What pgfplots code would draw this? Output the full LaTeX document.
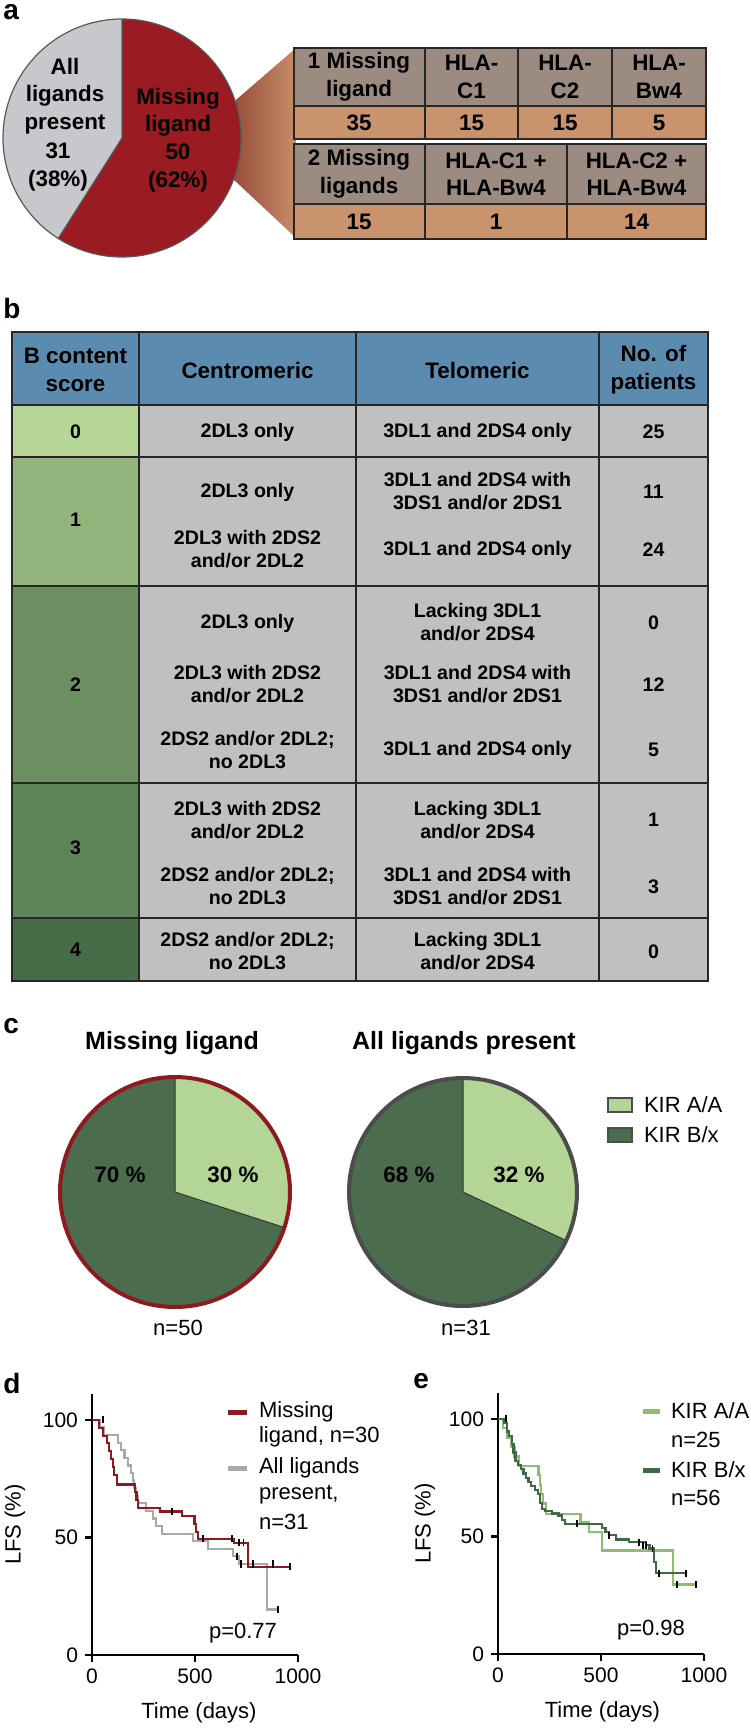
\documentclass[border=0pt]{standalone}
\usepackage{fontspec}
\setmainfont{Liberation Sans}
\setsansfont{Liberation Sans}
\usepackage{pgfplots}
\pgfplotsset{compat=1.18}

\definecolor{ligRed}{HTML}{9A1B21}
\definecolor{ligGray}{HTML}{C7C8CB}
\definecolor{wedgeL}{HTML}{7E2A22}
\definecolor{wedgeR}{HTML}{C68E68}
\definecolor{tabHead}{HTML}{9C8B80}
\definecolor{tabVal}{HTML}{C9936E}
\definecolor{tabBlue}{HTML}{5B8CB0}
\definecolor{tabGray}{HTML}{C0C0C0}
\definecolor{score0}{HTML}{B5D697}
\definecolor{score1}{HTML}{93B47B}
\definecolor{score2}{HTML}{6B8F61}
\definecolor{score3}{HTML}{5E8457}
\definecolor{score4}{HTML}{476D48}
\definecolor{kirAA}{HTML}{B3D595}
\definecolor{kirBx}{HTML}{4B6C4D}
\definecolor{kmRed}{HTML}{8E1A20}
\definecolor{kmGray}{HTML}{A9A9A9}
\definecolor{kmAA}{HTML}{8DBD70}
\definecolor{kmBx}{HTML}{3E6A44}

\newcommand{\fA}{\bfseries\fontsize{11.2}{13.8}\selectfont}
\newcommand{\fH}{\bfseries\fontsize{11.2}{14}\selectfont}
\newcommand{\fB}{\bfseries\fontsize{9.8}{11.4}\selectfont}
\newcommand{\fL}{\fontsize{11}{13.5}\selectfont}
\newcommand{\fP}{\bfseries\fontsize{14}{14}\selectfont}

\pgfplotsset{
  km/.style={
    scale only axis, width=103pt, height=130.5pt,
    xmin=0, xmax=1000, ymin=0, ymax=111,
    axis lines=left, axis line style={line width=1.3pt, -},
    xtick={0,500,1000}, ytick={0,50,100},
    tick align=outside, major tick length=3.5pt,
    every tick/.style={line width=1.3pt, black},
    tick label style={font=\fontsize{10.5}{12}\selectfont},
    /pgf/number format/assume math mode=true,
    /pgf/number format/1000 sep={},
    clip=false,
  },
  pie/.style={
    hide axis, scale only axis, anchor=center,
    xmin=-1, xmax=1, ymin=-1, ymax=1, clip=false,
  },
}

\begin{document}
\begin{tikzpicture}[x=0.5pt, y=-0.5pt]

% ---------------- panel a ----------------
\node[anchor=north west, inner sep=0, font=\fP] at (3,4) {a};

\shade[left color=wedgeL, right color=wedgeR]
  (200,131) -- (296,48) -- (296,238) -- (200,148) -- cycle;

\coordinate (pA) at (122,138);
\begin{axis}[pie, at={(pA)}, width=119pt, height=119pt]
  \fill[ligGray] (axis cs:0,0) -- ++(90:59.5pt)
     arc[start angle=90, end angle=90+41*3.6, radius=59.5pt] -- cycle;
  \fill[ligRed] (axis cs:0,0) -- ++(90:59.5pt)
     arc[start angle=90, end angle=90-59*3.6, radius=59.5pt] -- cycle;
  \draw[black!65, line width=0.6pt] (axis cs:0,0) -- ++(90:59.5pt)
     (axis cs:0,0) -- ++(90-59*3.6:59.5pt);
  \draw[black!65, line width=0.6pt] (axis cs:0,0) circle[radius=59.5pt];
\end{axis}

\node[align=center, inner sep=0, font=\fA] at (65,96) {All\\ligands\\present};
\node[align=center, inner sep=0, font=\fA] at (58,167) {31\\(38\%)};
\node[align=center, inner sep=0, font=\fA] at (178,140)
  {Missing\\ligand\\50\\(62\%)};

% table 1
\fill[tabHead] (294,48) rectangle (706,106);
\fill[tabVal] (294,106) rectangle (706,139);
\draw[black!85, line width=1pt] (294,48) rectangle (706,139)
  (294,106) -- (706,106) (425,48) -- (425,139)
  (518,48) -- (518,139) (612,48) -- (612,139);
\node[align=center, inner sep=0, font=\fA] at (359,77) {1 Missing\\ligand};
\node[align=center, inner sep=0, font=\fA] at (471.5,77) {HLA-\\C1};
\node[align=center, inner sep=0, font=\fA] at (565,77) {HLA-\\C2};
\node[align=center, inner sep=0, font=\fA] at (659,77) {HLA-\\Bw4};
\node[font=\fA] at (359,123) {35};
\node[font=\fA] at (471.5,123) {15};
\node[font=\fA] at (565,123) {15};
\node[font=\fA] at (659,123) {5};

% table 2
\fill[tabHead] (294,144) rectangle (706,204);
\fill[tabVal] (294,204) rectangle (706,239);
\draw[black!85, line width=1pt] (294,144) rectangle (706,239)
  (294,204) -- (706,204) (425,144) -- (425,239) (567,144) -- (567,239);
\node[align=center, inner sep=0, font=\fA] at (359,174) {2 Missing\\ligands};
\node[align=center, inner sep=0, font=\fA] at (496,174) {HLA-C1 +\\HLA-Bw4};
\node[align=center, inner sep=0, font=\fA] at (636.5,174) {HLA-C2 +\\HLA-Bw4};
\node[font=\fA] at (359,222) {15};
\node[font=\fA] at (496,222) {1};
\node[font=\fA] at (636.5,222) {14};

% ---------------- panel b ----------------
\node[anchor=north west, inner sep=0, font=\fP] at (3,298) {b};

\fill[tabBlue] (12,332) rectangle (708,405);
\fill[tabGray] (139,405) rectangle (708,981);
\fill[score0] (12,405) rectangle (139,457);
\fill[score1] (12,457) rectangle (139,586);
\fill[score2] (12,586) rectangle (139,783);
\fill[score3] (12,783) rectangle (139,918);
\fill[score4] (12,918) rectangle (139,981);
\draw[black!85, line width=1pt] (12,332) rectangle (708,981);
\foreach \yy in {405,457,586,783,918} \draw[black!85, line width=1pt] (12,\yy) -- (708,\yy);
\foreach \xx in {139,356,599} \draw[black!85, line width=1pt] (\xx,332) -- (\xx,981);

\node[align=center, inner sep=0, font=\fH] at (75.5,370) {B content\\score};
\node[font=\fH] at (247.5,370) {Centromeric};
\node[font=\fH] at (477.5,370) {Telomeric};
\node[align=center, inner sep=0, font=\fH] at (653.5,370) {No. of\\patients};

% row 0
\node[font=\fB] at (75.5,432) {0};
\node[font=\fB] at (247.5,432) {2DL3 only};
\node[font=\fB] at (477.5,432) {3DL1 and 2DS4 only};
\node[font=\fB] at (653.5,432) {25};
% row 1
\node[font=\fB] at (75.5,520) {1};
\node[font=\fB] at (247.5,492) {2DL3 only};
\node[align=center, inner sep=0, font=\fB] at (247.5,549) {2DL3 with 2DS2\\and/or 2DL2};
\node[align=center, inner sep=0, font=\fB] at (477.5,491) {3DL1 and 2DS4 with\\3DS1 and/or 2DS1};
\node[font=\fB] at (477.5,550) {3DL1 and 2DS4 only};
\node[font=\fB] at (653.5,492) {11};
\node[font=\fB] at (653.5,550) {24};
% row 2
\node[font=\fB] at (75.5,685) {2};
\node[font=\fB] at (247.5,623) {2DL3 only};
\node[align=center, inner sep=0, font=\fB] at (247.5,684) {2DL3 with 2DS2\\and/or 2DL2};
\node[align=center, inner sep=0, font=\fB] at (247.5,750) {2DS2 and/or 2DL2;\\no 2DL3};
\node[align=center, inner sep=0, font=\fB] at (477.5,622) {Lacking 3DL1\\and/or 2DS4};
\node[align=center, inner sep=0, font=\fB] at (477.5,684) {3DL1 and 2DS4 with\\3DS1 and/or 2DS1};
\node[font=\fB] at (477.5,750) {3DL1 and 2DS4 only};
\node[font=\fB] at (653.5,623) {0};
\node[font=\fB] at (653.5,685) {12};
\node[font=\fB] at (653.5,750) {5};
% row 3
\node[font=\fB] at (75.5,848) {3};
\node[align=center, inner sep=0, font=\fB] at (247.5,820) {2DL3 with 2DS2\\and/or 2DL2};
\node[align=center, inner sep=0, font=\fB] at (247.5,886) {2DS2 and/or 2DL2;\\no 2DL3};
\node[align=center, inner sep=0, font=\fB] at (477.5,820) {Lacking 3DL1\\and/or 2DS4};
\node[align=center, inner sep=0, font=\fB] at (477.5,886) {3DL1 and 2DS4 with\\3DS1 and/or 2DS1};
\node[font=\fB] at (653.5,820) {1};
\node[font=\fB] at (653.5,887) {3};
% row 4
\node[font=\fB] at (75.5,950) {4};
\node[align=center, inner sep=0, font=\fB] at (247.5,951) {2DS2 and/or 2DL2;\\no 2DL3};
\node[align=center, inner sep=0, font=\fB] at (477.5,951) {Lacking 3DL1\\and/or 2DS4};
\node[font=\fB] at (653.5,952) {0};

% ---------------- panel c ----------------
\node[anchor=north west, inner sep=0, font=\fP] at (3,1018) {c};
\node[font=\bfseries\fontsize{12.5}{14}\selectfont] at (172,1043) {Missing ligand};
\node[font=\bfseries\fontsize{12.5}{14}\selectfont] at (464,1043) {All ligands present};

\coordinate (pL) at (175,1192);
\begin{axis}[pie, at={(pL)}, width=115pt, height=115pt]
  \fill[kirBx] (axis cs:0,0) -- ++(90:57.5pt)
     arc[start angle=90, end angle=90+70*3.6, radius=57.5pt] -- cycle;
  \fill[kirAA] (axis cs:0,0) -- ++(90:57.5pt)
     arc[start angle=90, end angle=90-30*3.6, radius=57.5pt] -- cycle;
  \draw[black!80, line width=0.5pt] (axis cs:0,0) -- ++(90:57.5pt)
     (axis cs:0,0) -- ++(90-30*3.6:57.5pt);
  \draw[kmRed, line width=2pt] (axis cs:0,0) circle[radius=57.5pt];
\end{axis}

\coordinate (pR) at (463,1192);
\begin{axis}[pie, at={(pR)}, width=114pt, height=114pt]
  \fill[kirBx] (axis cs:0,0) -- ++(90:57pt)
     arc[start angle=90, end angle=90+68*3.6, radius=57pt] -- cycle;
  \fill[kirAA] (axis cs:0,0) -- ++(90:57pt)
     arc[start angle=90, end angle=90-32*3.6, radius=57pt] -- cycle;
  \draw[black!80, line width=0.5pt] (axis cs:0,0) -- ++(90:57pt)
     (axis cs:0,0) -- ++(90-32*3.6:57pt);
  \draw[black!70, line width=2pt] (axis cs:0,0) circle[radius=57pt];
\end{axis}

\node[font=\fA] at (120,1175) {70 \%};
\node[font=\fA] at (233,1175) {30 \%};
\node[font=\fA] at (409,1175) {68 \%};
\node[font=\fA] at (519,1175) {32 \%};
\node[font=\fL] at (178,1328) {n=50};
\node[font=\fL] at (466,1328) {n=31};

\filldraw[fill=kirAA, draw=black!70, line width=0.6pt] (608,1098) rectangle (632,1112);
\node[anchor=west, font=\fL] at (637,1105) {KIR A/A};
\filldraw[fill=kirBx, draw=black!70, line width=0.6pt] (608,1128) rectangle (632,1142);
\node[anchor=west, font=\fL] at (637,1135) {KIR B/x};

% ---------------- panel d ----------------
\node[anchor=north west, inner sep=0, font=\fP] at (3,1373) {d};
\coordinate (dO) at (92,1655);
\begin{axis}[km, at={(dO)}, anchor=south west]
  \addplot[const plot, kmGray, line width=1.1pt] coordinates {
    (0,100) (38,96.8) (60,93.5) (128,90.3) (142,87.1) (158,83.9) (175,80.6)
    (190,77.4) (198,74.2) (204,71) (212,67.7) (222,64.5) (262,61.3) (296,58.1)
    (312,54.8) (340,51.6) (490,48.4) (565,45.2) (685,42) (715,38.7) (848,19.4)
    (903,19.4)};
  \addplot[const plot, kmRed, line width=1.1pt] coordinates {
    (0,100) (35,96.7) (55,93.3) (72,90) (82,86.7) (92,83.3) (100,80) (108,76.7)
    (120,72.5) (209,69.3) (216,66) (224,62.5) (330,61) (435,59) (498,55.7)
    (506,52.4) (515,49.5) (690,47.8) (758,37.6) (961,37.6)};
  \addplot[only marks, mark=|, mark size=1.8pt, black, mark options={line width=0.9pt}]
    coordinates {(55,100) (387,61) (540,49.5) (680,49.5) (712,47.8) (735,47.8)
    (961,37.6) (705,42) (725,38.7) (783,38.7) (880,38.7) (903,19.4)};
  \path (axis description cs:0,0.5) ++(-38.5pt,0)
    node[rotate=90, font=\fL] {LFS (\%)};
  \path (axis description cs:0.519,0) ++(0,-29pt)
    node[font=\fL] {Time (days)};
\end{axis}
\draw[kmRed, line width=2.5pt] (228,1412) -- (247,1412);
\node[anchor=west, font=\fL] at (252,1412) {Missing};
\node[anchor=west, font=\fL] at (252,1437) {ligand, n=30};
\draw[kmGray, line width=2.5pt] (228,1468) -- (247,1468);
\node[anchor=west, font=\fL] at (252,1468) {All ligands};
\node[anchor=west, font=\fL] at (252,1495) {present,};
\node[anchor=west, font=\fL] at (252,1522) {n=31};
\node[font=\fL] at (243,1633) {p=0.77};

% ---------------- panel e ----------------
\node[anchor=north west, inner sep=0, font=\fP] at (413,1373) {e};
\coordinate (eO) at (498,1654);
\begin{axis}[km, at={(eO)}, anchor=south west]
  \addplot[const plot, kmAA, line width=1.1pt] coordinates {
    (0,100) (25,96) (45,92) (62,88) (80,84) (100,80) (197,76) (203,72) (210,68)
    (218,64) (232,59.5) (400,56) (440,52) (506,44) (848,29.6) (961,29.6)};
  \addplot[const plot, kmBx, line width=1.1pt] coordinates {
    (0,100) (30,98.2) (42,94.6) (55,92.8) (67,89.3) (75,85.7) (85,82.1) (99,80.4)
    (112,78.6) (124,76.8) (136,75) (148,73.2) (162,71.4) (180,69.6) (195,67.9)
    (205,64.3) (213,61.6) (229,60.7) (262,59.8) (294,58.9) (311,57.1) (327,55.4)
    (506,53.6) (522,51.8) (538,50.5) (571,48.7) (636,47.5) (717,46.3) (735,44.9)
    (758,39.3) (768,34.4) (912,34.4)};
  \addplot[only marks, mark=|, mark size=1.8pt, black, mark options={line width=0.9pt}]
    coordinates {(40,100) (384,55.4) (540,50.5) (684,47.5) (702,46.3) (720,46.3)
    (750,44.9) (782,34.4) (912,34.4) (870,29.6) (961,29.6)};
  \path (axis description cs:0,0.5) ++(-36.5pt,0)
    node[rotate=90, font=\fL] {LFS (\%)};
  \path (axis description cs:0.507,0) ++(0,-29pt)
    node[font=\fL] {Time (days)};
\end{axis}
\draw[kmAA, line width=2.5pt] (643,1411) -- (660,1411);
\node[anchor=west, font=\fL] at (664,1411) {KIR A/A};
\node[anchor=west, font=\fL] at (664,1440) {n=25};
\draw[kmBx, line width=2.5pt] (643,1470) -- (660,1470);
\node[anchor=west, font=\fL] at (664,1470) {KIR B/x};
\node[anchor=west, font=\fL] at (664,1498) {n=56};
\node[font=\fL] at (651,1630) {p=0.98};

\pgfresetboundingbox
\useasboundingbox (0,0) rectangle (750,1730);
\end{tikzpicture}
\end{document}
